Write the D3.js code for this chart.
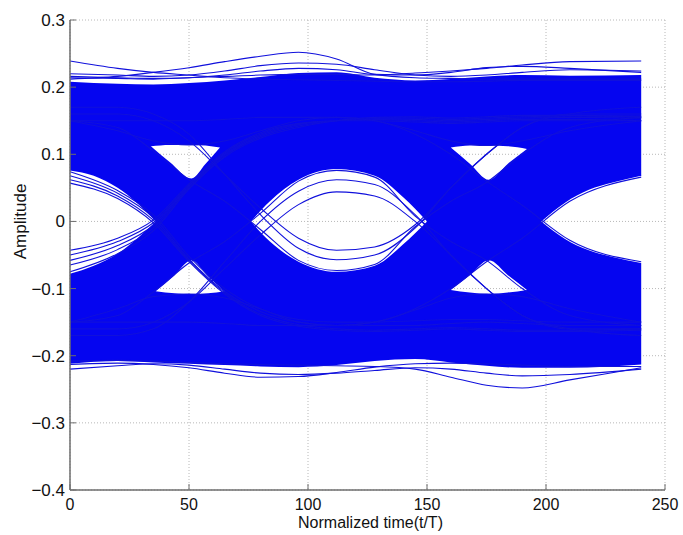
<!DOCTYPE html>
<html>
<head>
<meta charset="utf-8">
<script src="https://cdn.jsdelivr.net/npm/d3@7"></script>
<style>
  body { margin: 0; background: #fff; }
  svg text { font-family: "Liberation Sans", Arial, sans-serif; fill: #111; }
</style>
</head>
<body>
<svg id="chart" width="683" height="535"></svg>
<script>
'use strict';

// axis ticks
const X_TICKS = [0, 50, 100, 150, 200, 250];
const Y_TICKS = [-0.4, -0.3, -0.2, -0.1, 0, 0.1, 0.2, 0.3];

// shared sample times for every trace (t/T)
const TIME = [0, 20, 35, 50, 65, 80, 96, 112, 128, 145, 160, 175, 190, 210, 240];

// dense part of the eye (edges of the solid blue band)
const bandTop    = [0.208, 0.205, 0.204, 0.206, 0.210, 0.215, 0.221, 0.222, 0.214, 0.210, 0.212, 0.216, 0.218, 0.217, 0.218];
const bandBottom = [-0.212, -0.208, -0.210, -0.212, -0.214, -0.216, -0.217, -0.214, -0.208, -0.205, -0.210, -0.215, -0.218, -0.218, -0.213];

// openings (white holes)
const leftEyeT  = [0, 10, 20, 28, 36];
const leftEyeHi = [0.076, 0.068, 0.050, 0.028, 0];
const leftEyeLo = [-0.078, -0.066, -0.048, -0.026, 0];

const midEyeT  = [76, 84, 96, 112, 128, 140, 150];
const midEyeHi = [0, 0.030, 0.062, 0.078, 0.068, 0.036, 0];
const midEyeLo = [0, -0.030, -0.060, -0.075, -0.066, -0.034, 0];

const rightEyeT  = [198, 208, 218, 228, 240];
const rightEyeHi = [0, 0.028, 0.047, 0.058, 0.068];
const rightEyeLo = [0, -0.026, -0.043, -0.053, -0.062];

const triTopAT  = [34, 42, 51, 57, 63];
const triTopAHi = [0.112, 0.114, 0.114, 0.113, 0.110];
const triTopALo = [0.112, 0.088, 0.064, 0.086, 0.110];

const triBotAT  = [36, 44, 51, 58, 65];
const triBotAHi = [-0.104, -0.080, -0.058, -0.082, -0.104];
const triBotALo = [-0.104, -0.107, -0.108, -0.107, -0.104];

const triTopBT  = [160, 168, 176, 184, 192];
const triTopBHi = [0.110, 0.113, 0.113, 0.112, 0.108];
const triTopBLo = [0.110, 0.086, 0.062, 0.086, 0.108];

const triBotBT  = [160, 168, 176, 184, 192];
const triBotBHi = [-0.102, -0.080, -0.058, -0.080, -0.102];
const triBotBLo = [-0.102, -0.106, -0.108, -0.106, -0.102];

// single traces that stand out (values at TIME)
const topA = [0.239, 0.228, 0.222, 0.218, 0.214, 0.212, 0.211, 0.210, 0.209, 0.208, 0.208, 0.209, 0.210, 0.210, 0.210];
const topB = [0.212, 0.216, 0.222, 0.229, 0.238, 0.246, 0.252, 0.242, 0.219, 0.214, 0.213, 0.212, 0.212, 0.212, 0.212];
const topC = [0.214, 0.213, 0.212, 0.214, 0.216, 0.218, 0.219, 0.219, 0.218, 0.221, 0.224, 0.228, 0.233, 0.238, 0.239];
const topD = [0.220, 0.218, 0.216, 0.218, 0.224, 0.232, 0.236, 0.234, 0.226, 0.218, 0.216, 0.218, 0.222, 0.226, 0.224];
const topE = [0.216, 0.214, 0.213, 0.214, 0.218, 0.224, 0.228, 0.226, 0.219, 0.218, 0.222, 0.229, 0.231, 0.228, 0.222];

const botA = [-0.213, -0.211, -0.213, -0.218, -0.226, -0.232, -0.231, -0.225, -0.217, -0.212, -0.211, -0.212, -0.214, -0.216, -0.216];
const botB = [-0.208, -0.207, -0.208, -0.210, -0.212, -0.213, -0.214, -0.215, -0.216, -0.220, -0.232, -0.244, -0.248, -0.236, -0.218];
const botC = [-0.220, -0.215, -0.212, -0.214, -0.220, -0.226, -0.228, -0.226, -0.222, -0.218, -0.220, -0.226, -0.230, -0.228, -0.220];

// left eye edges
const fallA = [0.074, 0.046, 0.010, -0.052, -0.100, -0.130, -0.146, -0.150, -0.150, -0.148, -0.146, -0.146, -0.148, -0.150, -0.150];
const fallB = [0.068, 0.042, 0.006, -0.056, -0.104, -0.134, -0.150, -0.155, -0.155, -0.155, -0.152, -0.150, -0.152, -0.155, -0.155];
const fallC = [0.062, 0.038, 0.002, -0.058, -0.106, -0.138, -0.154, -0.160, -0.162, -0.160, -0.158, -0.160, -0.162, -0.162, -0.160];
const fallD = [0.057, 0.034, -0.002, -0.060, -0.108, -0.140, -0.156, -0.162, -0.164, -0.162, -0.160, -0.162, -0.164, -0.164, -0.162];
const riseA = [-0.043, -0.025, 0.002, 0.056, 0.104, 0.132, 0.146, 0.150, 0.150, 0.148, 0.146, 0.148, 0.150, 0.150, 0.150];
const riseB = [-0.050, -0.030, -0.002, 0.054, 0.102, 0.130, 0.145, 0.150, 0.152, 0.150, 0.148, 0.150, 0.152, 0.152, 0.150];
const riseC = [-0.058, -0.036, -0.006, 0.052, 0.100, 0.128, 0.144, 0.150, 0.153, 0.152, 0.150, 0.152, 0.154, 0.155, 0.154];
const riseD = [-0.065, -0.042, -0.010, 0.050, 0.098, 0.126, 0.142, 0.150, 0.154, 0.154, 0.152, 0.154, 0.156, 0.157, 0.156];
const riseE = [-0.075, -0.048, -0.014, 0.048, 0.096, 0.124, 0.140, 0.150, 0.155, 0.156, 0.154, 0.156, 0.158, 0.158, 0.157];

// centre eye edges and lines inside it
const midUp   = [-0.150, -0.140, -0.105, -0.062, -0.030, 0.012, 0.060, 0.076, 0.066, 0.008, -0.030, -0.058, -0.100, -0.140, -0.155];
const midDown = [0.150, 0.140, 0.105, 0.062, 0.030, -0.012, -0.058, -0.073, -0.064, -0.008, 0.030, 0.058, 0.100, 0.140, 0.155];
const innerA  = [-0.160, -0.160, -0.150, -0.120, -0.070, -0.020, 0.025, 0.044, 0.038, 0.000, -0.050, -0.100, -0.140, -0.160, -0.160];
const innerB  = [0.160, 0.160, 0.150, 0.120, 0.070, 0.020, -0.025, -0.043, -0.038, -0.005, 0.050, 0.100, 0.140, 0.160, 0.160];
const innerC  = [0.170, 0.170, 0.160, 0.130, 0.070, 0.010, -0.040, -0.057, -0.050, -0.010, 0.050, 0.100, 0.140, 0.160, 0.170];
const innerD  = [-0.170, -0.170, -0.160, -0.120, -0.060, 0.000, 0.045, 0.062, 0.055, 0.010, -0.050, -0.100, -0.140, -0.160, -0.170];

// right eye edges
const rightUp   = [-0.150, -0.150, -0.150, -0.150, -0.152, -0.155, -0.155, -0.155, -0.150, -0.130, -0.100, -0.060, -0.025, 0.030, 0.066];
const rightDown = [0.150, 0.150, 0.150, 0.150, 0.152, 0.155, 0.155, 0.155, 0.150, 0.130, 0.100, 0.060, 0.024, -0.028, -0.060];

// steady levels bounding the small triangles
const highFlat = [0.150, 0.135, 0.120, 0.114, 0.120, 0.135, 0.150, 0.155, 0.150, 0.135, 0.120, 0.113, 0.120, 0.135, 0.150];
const lowFlat  = [-0.150, -0.130, -0.112, -0.108, -0.114, -0.130, -0.150, -0.155, -0.150, -0.132, -0.114, -0.108, -0.112, -0.130, -0.150];

const traces = [topA, topB, topC, topD, topE, botA, botB, botC,
  fallA, fallB, fallC, fallD, riseA, riseB, riseC, riseD, riseE,
  midUp, midDown, innerA, innerB, innerC, innerD, rightUp, rightDown, highFlat, lowFlat];

const holes = [
  [leftEyeT, leftEyeHi, leftEyeLo],
  [midEyeT, midEyeHi, midEyeLo],
  [rightEyeT, rightEyeHi, rightEyeLo],
  [triTopAT, triTopAHi, triTopALo],
  [triBotAT, triBotAHi, triBotALo],
  [triTopBT, triTopBHi, triTopBLo],
  [triBotBT, triBotBHi, triBotBLo]
];

const LEFT = 70, RIGHT = 665, TOP = 20, BOTTOM = 490;
const BLUE = "#0505f0";

const svg = d3.select("#chart");
const x = d3.scaleLinear().domain([0, 250]).range([LEFT, RIGHT]);
const y = d3.scaleLinear().domain([-0.4, 0.3]).range([BOTTOM, TOP]);

// dotted grid
const grid = svg.append("g").attr("stroke", "#b8b8b8").attr("stroke-dasharray", "1,2").attr("stroke-width", 1);
grid.selectAll(".gx").data(X_TICKS).enter().append("line")
  .attr("x1", d => x(d)).attr("x2", d => x(d)).attr("y1", TOP).attr("y2", BOTTOM);
grid.selectAll(".gy").data(Y_TICKS).enter().append("line")
  .attr("x1", LEFT).attr("x2", RIGHT).attr("y1", d => y(d)).attr("y2", d => y(d));

// solid band with holes cut out (evenodd)
const band = d3.area()
  .x((d, i) => x(TIME[i]))
  .y0((d, i) => y(bandBottom[i]))
  .y1(d => y(d))
  .curve(d3.curveMonotoneX);

let bandPath = band(bandTop);
holes.forEach(([ts, hi, lo]) => {
  const hole = d3.area()
    .x((d, i) => x(ts[i]))
    .y0((d, i) => y(lo[i]))
    .y1(d => y(d))
    .curve(d3.curveMonotoneX);
  bandPath += hole(hi);
});

svg.append("path")
  .attr("d", bandPath)
  .attr("fill", BLUE)
  .attr("fill-rule", "evenodd");

// individual traces
const line = d3.line()
  .x((d, i) => x(TIME[i]))
  .y(d => y(d))
  .curve(d3.curveMonotoneX);

svg.append("g").selectAll("path")
  .data(traces)
  .enter()
  .append("path")
  .attr("d", line)
  .attr("fill", "none")
  .attr("stroke", "#1010dc")
  .attr("stroke-width", 1.1);

// axes: solid left and bottom with inward ticks
const axisColor = "#6e6e6e";
svg.append("line").attr("x1", LEFT).attr("x2", LEFT).attr("y1", TOP).attr("y2", BOTTOM)
  .attr("stroke", axisColor).attr("stroke-width", 1.5);
svg.append("line").attr("x1", LEFT).attr("x2", RIGHT).attr("y1", BOTTOM).attr("y2", BOTTOM)
  .attr("stroke", axisColor).attr("stroke-width", 1.5);

svg.append("g").selectAll("line").data(X_TICKS).enter().append("line")
  .attr("x1", d => x(d)).attr("x2", d => x(d)).attr("y1", BOTTOM).attr("y2", BOTTOM - 6)
  .attr("stroke", axisColor);
svg.append("g").selectAll("line").data(Y_TICKS).enter().append("line")
  .attr("x1", LEFT).attr("x2", LEFT + 6).attr("y1", d => y(d)).attr("y2", d => y(d))
  .attr("stroke", axisColor);

const fmtY = d => d === 0 ? "0" : (d < 0 ? "\u2212" : "") + Math.abs(d).toFixed(1);

svg.append("g").selectAll("text").data(Y_TICKS).enter().append("text")
  .attr("x", LEFT - 5).attr("y", d => y(d) + 6)
  .attr("text-anchor", "end")
  .attr("font-size", 17)
  .text(fmtY);

svg.append("g").selectAll("text").data(X_TICKS).enter().append("text")
  .attr("x", d => x(d)).attr("y", BOTTOM + 20)
  .attr("text-anchor", "middle")
  .attr("font-size", 16)
  .text(d => d);

svg.append("text")
  .attr("x", (LEFT + RIGHT) / 2 + 3).attr("y", 528)
  .attr("text-anchor", "middle")
  .attr("font-size", 16)
  .text("Normalized time(t/T)");

svg.append("text")
  .attr("transform", `translate(26, ${y(0)}) rotate(-90)`)
  .attr("text-anchor", "middle")
  .attr("font-size", 17)
  .text("Amplitude");
</script>
</body>
</html>
